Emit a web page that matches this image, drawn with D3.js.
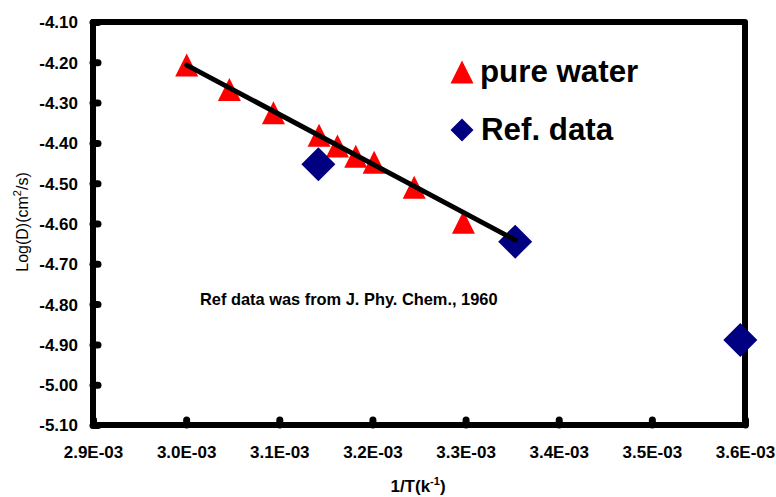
<!DOCTYPE html>
<html>
<head>
<meta charset="utf-8">
<script src="https://cdn.jsdelivr.net/npm/d3@7"></script>
<style>
  html, body { margin: 0; padding: 0; background: #fff; }
  svg { display: block; font-family: "Liberation Sans", Arial, sans-serif; }
</style>
</head>
<body>
<svg id="chart" width="776" height="497"></svg>
<script>
// Pure water diffusion measurements: 1/T (K^-1) vs log10(D / cm^2 s^-1)
const waterX = [3.0006e-3, 3.0464e-3, 3.0937e-3, 3.1427e-3, 3.1624e-3, 3.1821e-3, 3.2018e-3, 3.2448e-3, 3.2977e-3];
const waterY = [-4.207, -4.2675, -4.325, -4.381, -4.408, -4.433, -4.448, -4.510, -4.597];

// Literature reference points
const refX = [3.142e-3, 3.3533e-3, 3.595e-3];
const refY = [-4.453, -4.645, -4.889];

// Linear fit through the pure water data (end points)
const fitX = [3.0006e-3, 3.3533e-3];
const fitY = [-4.207, -4.641];

// Axis ticks
const xTicks = [2.9e-3, 3.0e-3, 3.1e-3, 3.2e-3, 3.3e-3, 3.4e-3, 3.5e-3, 3.6e-3];
const yTicks = [-4.10, -4.20, -4.30, -4.40, -4.50, -4.60, -4.70, -4.80, -4.90, -5.00, -5.10];

const seriesNames = ["pure water", "Ref. data"];
const note = "Ref data was from J. Phy. Chem., 1960";

const svg = d3.select("#chart");
const plotL = 93, plotR = 745, plotT = 22, plotB = 425;

const x = d3.scaleLinear().domain([2.9e-3, 3.6e-3]).range([plotL, plotR]);
const y = d3.scaleLinear().domain([-5.10, -4.10]).range([plotB, plotT]);

// Isosceles triangle whose width equals its height
const triangleShape = {
  draw(ctx, size) {
    const s = Math.sqrt(size);
    ctx.moveTo(0, -s / 2);
    ctx.lineTo(s / 2, s / 2);
    ctx.lineTo(-s / 2, s / 2);
    ctx.closePath();
  }
};
// Square turned 45 degrees
const diamondShape = {
  draw(ctx, size) {
    const h = Math.sqrt(size) / 2;
    ctx.moveTo(0, -h);
    ctx.lineTo(h, 0);
    ctx.lineTo(0, h);
    ctx.lineTo(-h, 0);
    ctx.closePath();
  }
};

const RED = "#ff0000", NAVY = "#000080";

// Axes with inward, round-capped ticks
const xAxis = d3.axisBottom(x).tickValues(xTicks)
  .tickFormat(d => d.toExponential(1).replace("e-3", "E-03"))
  .tickSizeInner(-5).tickSizeOuter(0).tickPadding(20);
const yAxis = d3.axisLeft(y).tickValues(yTicks)
  .tickFormat(d => d.toFixed(2))
  .tickSizeInner(-5).tickSizeOuter(0).tickPadding(15);

const gx = svg.append("g").attr("transform", `translate(0,${plotB})`).call(xAxis);
const gy = svg.append("g").attr("transform", `translate(${plotL},0)`).call(yAxis);
[gx, gy].forEach(g => {
  g.select(".domain").remove();
  g.selectAll(".tick line")
    .attr("stroke", "#000").attr("stroke-width", 7).attr("stroke-linecap", "round");
  g.selectAll(".tick text")
    .attr("font-family", "'Liberation Sans', Arial, sans-serif")
    .attr("font-size", 17).attr("font-weight", "bold").attr("fill", "#000");
});
gx.selectAll(".tick text").attr("dy", "0.71em").attr("y", 21);
gy.selectAll(".tick text").attr("x", -15).attr("dy", "0.35em");

// Plot frame
svg.append("path")
  .attr("d", `M${plotL},${plotT}H${plotR}V${plotB}H${plotL}Z`)
  .attr("fill", "none").attr("stroke", "#000")
  .attr("stroke-width", 6).attr("stroke-linejoin", "round");

// Pure water triangles
svg.append("g").selectAll("path")
  .data(d3.zip(waterX, waterY))
  .join("path")
  .attr("transform", d => `translate(${x(d[0])},${y(d[1])})`)
  .attr("d", d3.symbol(triangleShape, 23 * 23))
  .attr("fill", RED);

// Reference diamonds
svg.append("g").selectAll("path")
  .data(d3.zip(refX, refY))
  .join("path")
  .attr("transform", d => `translate(${x(d[0])},${y(d[1])})`)
  .attr("d", d3.symbol(diamondShape, 34 * 34))
  .attr("fill", NAVY);

// Fit line
svg.append("path")
  .datum(d3.zip(fitX, fitY))
  .attr("d", d3.line().x(d => x(d[0])).y(d => y(d[1])))
  .attr("fill", "none").attr("stroke", "#000")
  .attr("stroke-width", 5).attr("stroke-linecap", "round");

// Legend
const legend = svg.append("g");
legend.append("path").attr("transform", "translate(462,72)")
  .attr("d", d3.symbol(triangleShape, 23 * 23)).attr("fill", RED);
legend.append("path").attr("transform", "translate(462,130)")
  .attr("d", d3.symbol(diamondShape, 23 * 23)).attr("fill", NAVY);
legend.append("text").attr("x", 480).attr("y", 82)
  .attr("font-size", 31.3).attr("font-weight", "bold").text(seriesNames[0]);
legend.append("text").attr("x", 481).attr("y", 140)
  .attr("font-size", 31.3).attr("font-weight", "bold").text(seriesNames[1]);

// Source note
svg.append("text").attr("x", 200).attr("y", 305)
  .attr("font-size", 16.4).attr("font-weight", "bold").text(note);

// Axis titles
const xt = svg.append("text").attr("x", 418).attr("y", 492)
  .attr("text-anchor", "middle").attr("font-size", 17).attr("font-weight", "bold");
xt.append("tspan").text("1/T(k");
xt.append("tspan").attr("font-size", 11).attr("dy", -7).text("-1");
xt.append("tspan").attr("dy", 7).text(")");

const yt = svg.append("text")
  .attr("transform", "translate(28,222) rotate(-90)")
  .attr("text-anchor", "middle").attr("font-size", 16);
yt.append("tspan").text("Log(D)(cm");
yt.append("tspan").attr("font-size", 11).attr("dy", -7).text("2");
yt.append("tspan").attr("dy", 7).text("/s)");
</script>
</body>
</html>
